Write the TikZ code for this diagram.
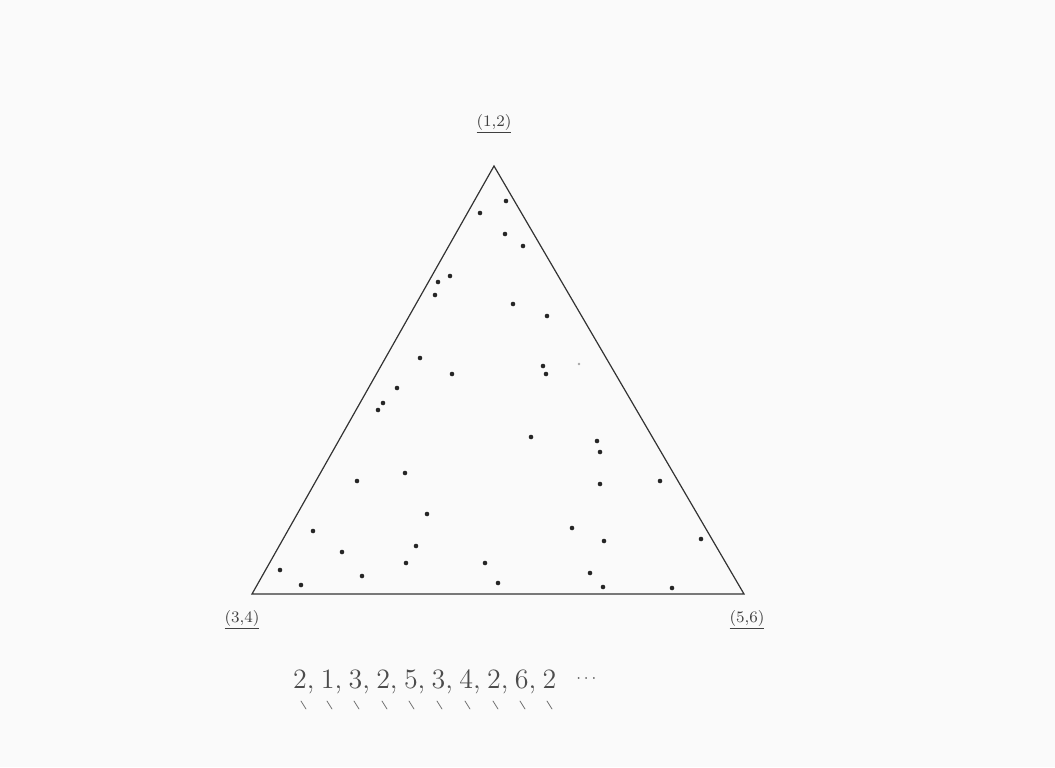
\documentclass[tikz,border=0pt]{standalone}
\usepackage{tikz}
\usetikzlibrary{calc,positioning}
\tikzset{
  lado/.style={draw=black!80,line width=0.6pt,line join=miter},
  punto/.style={fill=black!85},
  etiqueta/.style={font=\fontsize{8}{9}\selectfont,text=black!75,inner sep=1pt},
  marca/.style={black!55,line width=0.4pt,line cap=round}
}
\newcommand{\sep}{,\hspace{3.2pt}}

\begin{document}
\begin{tikzpicture}[x=0.5pt,y=-0.5pt]
\fill[black!2] (0,0) rectangle (1055,767);
\useasboundingbox (0,0) rectangle (1055,767);
% vertices
\coordinate (A) at (494,166);
\coordinate (B) at (252,594);
\coordinate (C) at (744,594);
\draw[lado] (A) -- (B) -- (C) -- cycle;
\node[etiqueta] (la) at (494,124) {\underline{(1,2)}};
\node[etiqueta] (lb) at (242,620) {\underline{(3,4)}};
\node[etiqueta] (lc) at (747,620) {\underline{(5,6)}};
% puntos del juego del caos
\foreach \x/\y in {480/213,450/276,438/282,435/295,420/358,452/374,397/388,
  383/403,378/410,405/473,357/481,427/514,313/531,342/552,416/546,406/563,
  280/570,362/576,301/585,485/563,498/583,506/201,505/234,523/246,513/304,
  547/316,543/366,546/374,531/437,597/441,600/452,600/484,660/481,572/528,
  604/541,701/539,590/573,603/587,672/588}
  \fill[punto] (\x,\y) circle (2.3);
\fill[black!35] (579,364) circle (1.3);
% sucesion de tiradas
\node[font=\fontsize{14}{16}\selectfont,text=black!70,anchor=west] (seq) at (286,682)
  {2\sep 1\sep 3\sep 2\sep 5\sep 3\sep 4\sep 2\sep 6\sep 2\hspace{10pt}\raisebox{0.5ex}{\footnotesize$\cdots$}};
\foreach \x in {304,330,357,385,412,440,468,496,523,550}
  \draw[marca] (\x-3,701) -- (\x+2,709);
\end{tikzpicture}
\end{document}
